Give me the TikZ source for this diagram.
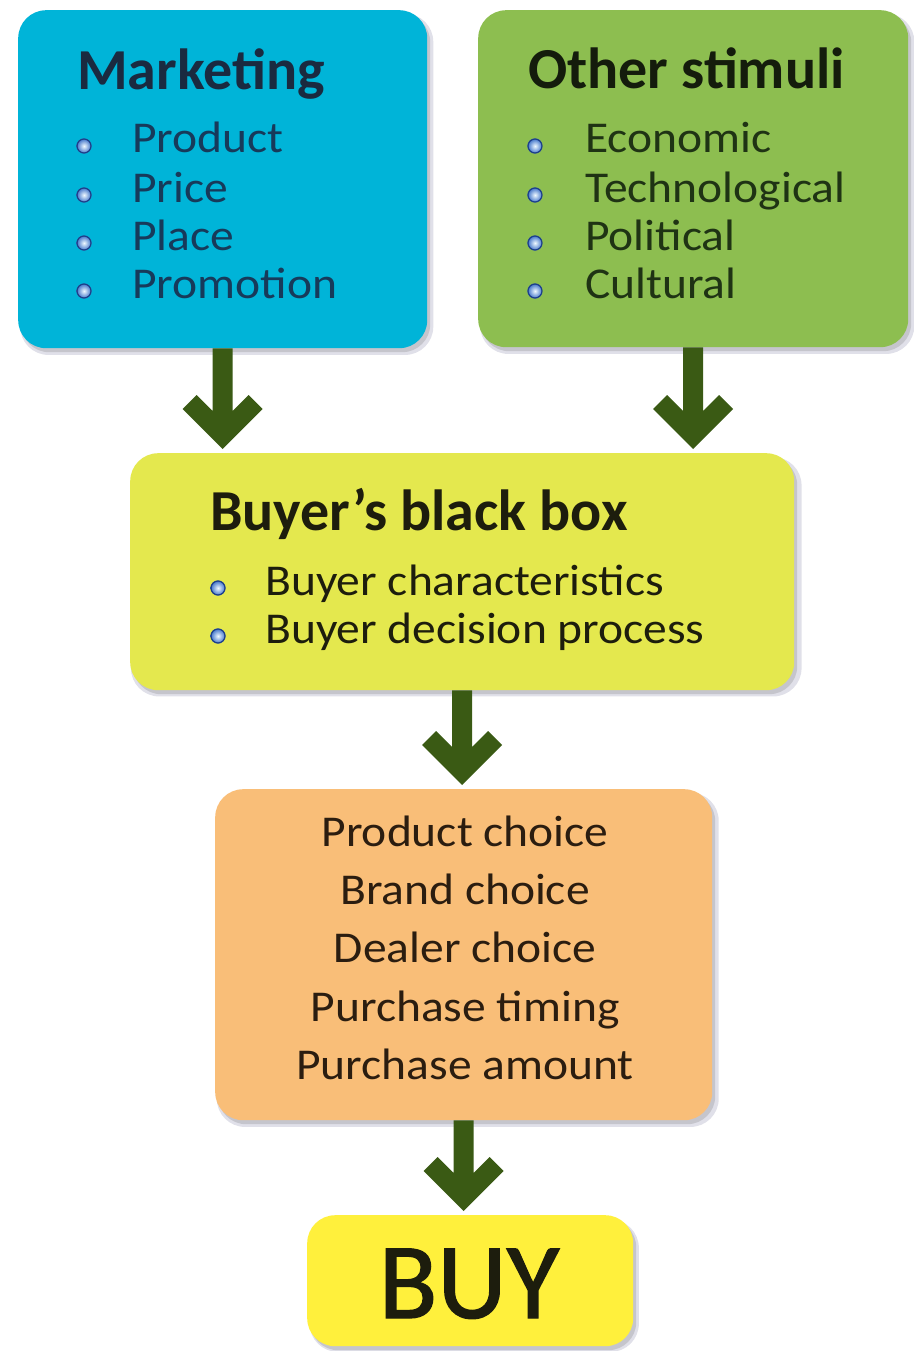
\documentclass[tikz,border=0pt]{standalone}
\usepackage{fontspec}
\setmainfont{Carlito}
\newfontfamily\itemfont[FakeStretch=1.08]{Carlito}
\newfontfamily\buyfont[FakeBold=1.2]{Carlito}
\usetikzlibrary{shadows,calc}
\definecolor{cyanbox}{HTML}{00B4D8}
\definecolor{greenbox}{HTML}{8DBE50}
\definecolor{yellowbox}{HTML}{E4E84E}
\definecolor{orangebox}{HTML}{F9BE78}
\definecolor{buybox}{HTML}{FFF03C}
\definecolor{arrowc}{HTML}{3A5A14}
\definecolor{bulletin}{HTML}{F0FAFF}
\definecolor{bulletout}{HTML}{3A6FC8}
\definecolor{bulletrim}{HTML}{1E3F88}
\definecolor{mktext}{HTML}{1A2A40}
\definecolor{mkitem}{HTML}{173A5A}
\definecolor{ottext}{HTML}{141C0C}
\definecolor{otitem}{HTML}{1F3314}
\definecolor{bbtext}{HTML}{1D1D0D}
\definecolor{ortext}{HTML}{2B1D10}
\newcommand{\chevarrow}[2]{%
  \fill[arrowc] let \p1=(#1.south), \p2=(#2.north) in
    (\x1-10pt,\y1) -- (\x1+10pt,\y1) -- (\x1+10pt,\y2+42pt) --
    (\x1+26pt,\y2+58pt) -- (\x1+40pt,\y2+44pt) -- (\x1,\y2+4pt) --
    (\x1-40pt,\y2+44pt) -- (\x1-26pt,\y2+58pt) -- (\x1-10pt,\y2+42pt) -- cycle;}
\newcommand{\bul}[2]{\shade[inner color=bulletin, outer color=bulletout] (#1,#2+1) circle (7.5pt);
  \draw[bulletrim, line width=1.2pt] (#1,#2+1) circle (7pt);}
\begin{document}
\begin{tikzpicture}[x=1pt,y=-1pt,
  box/.style={rounded corners=28pt, anchor=north west, inner sep=0pt,
    general shadow={shadow xshift=4pt, shadow yshift=-5pt, opacity=0.12, fill=black!70!blue, shadow scale=1.01},
    drop shadow={shadow xshift=3pt, shadow yshift=-4pt, opacity=0.22, fill=black!60}},
  title/.style={anchor=base west, inner sep=0pt, font=\bfseries\fontsize{58}{60}\selectfont},
  item/.style={anchor=base west, inner sep=0pt, font=\itemfont\fontsize{44}{48}\selectfont},
  choice/.style={anchor=base, inner sep=0pt, font=\itemfont\fontsize{44}{48}\selectfont, text=ortext}]
\useasboundingbox[fill=white] (0,0) rectangle (913,1351);

% boxes
\node[box, fill=cyanbox, minimum width=409pt, minimum height=338pt] (mk) at (18,10) {};
\node[box, fill=greenbox, minimum width=430pt, minimum height=337pt] (ot) at (478,10) {};
\node[box, fill=yellowbox, minimum width=664pt, minimum height=237pt] (bb) at (130,453) {};
\node[box, fill=orangebox, minimum width=497pt, minimum height=331pt] (ch) at (215,789) {};
\node[box, fill=buybox, minimum width=326pt, minimum height=131pt] (buy) at (307,1215) {};

% Marketing
\node[title, text=mktext] (mkt) at (77,90) {Marketing};
\bul{84}{145}\bul{84}{194}\bul{84}{242}\bul{84}{290}
\node[item, text=mkitem] (mk1) at (132,153) {Product};
\node[item, text=mkitem] (mk2) at (132,202) {Price};
\node[item, text=mkitem] (mk3) at (132,250) {Place};
\node[item, text=mkitem] (mk4) at (132,298) {Promotion};

% Other stimuli
\node[title, text=ottext] (ott) at (528,89) {Other stimuli};
\bul{535}{145}\bul{535}{194}\bul{535}{242}\bul{535}{290}
\node[item, text=otitem] (ot1) at (585,153) {Economic};
\node[item, text=otitem] (ot2) at (585,202) {Technological};
\node[item, text=otitem] (ot3) at (585,250) {Political};
\node[item, text=otitem] (ot4) at (585,298) {Cultural};

% Buyer's black box
\node[title, text=bbtext] (bbt) at (210,530) {Buyer’s black box};
\bul{218}{587}\bul{218}{635}
\node[item, text=bbtext] (bb1) at (265,595) {Buyer characteristics};
\node[item, text=bbtext] (bb2) at (265,643) {Buyer decision process};

% Choices
\node[choice] (c1) at (465,846) {Product choice};
\node[choice] (c2) at (465,904) {Brand choice};
\node[choice] (c3) at (465,962) {Dealer choice};
\node[choice] (c4) at (465,1021) {Purchase timing};
\node[choice] (c5) at (465,1079) {Purchase amount};

% BUY
\node[anchor=base, inner sep=0pt, font=\buyfont\fontsize{108}{108}\selectfont, text=bbtext] (buyt) at (469,1318) {BUY};

% arrows
\chevarrow{mk}{bb}
\chevarrow{ot}{bb}
\chevarrow{bb}{ch}
\chevarrow{ch}{buy}
\end{tikzpicture}
\end{document}
